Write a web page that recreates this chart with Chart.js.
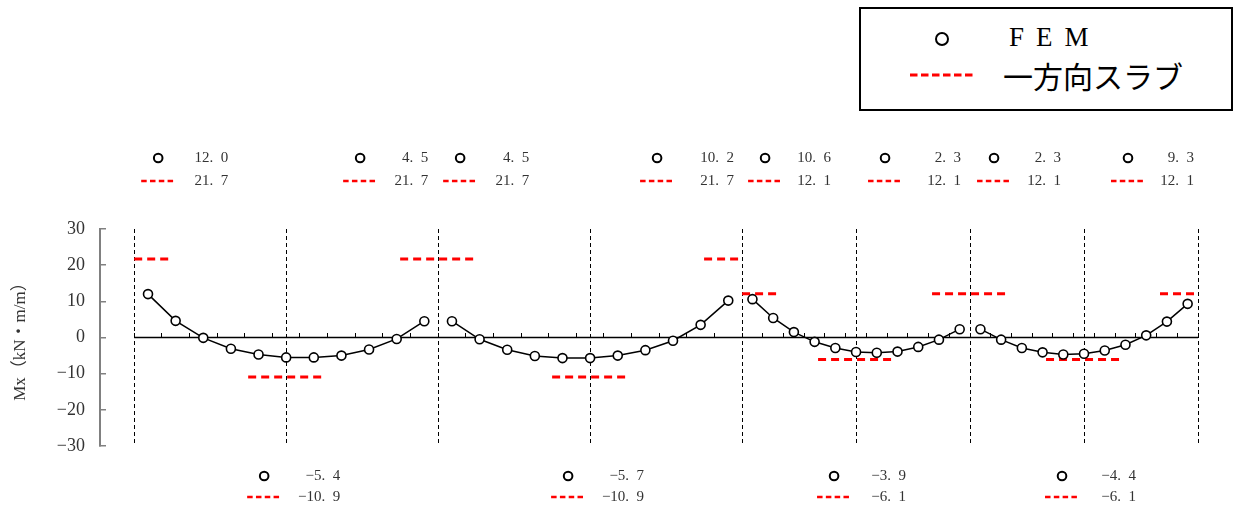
<!DOCTYPE html>
<html>
<head>
<meta charset="utf-8">
<script src="https://cdn.jsdelivr.net/npm/chart.js@4.4.1/dist/chart.umd.min.js"></script>
<style>
  body { margin: 0; background: #fff; }
  #wrap { position: relative; width: 1238px; height: 513px; }
  #legend { position: absolute; left: 859px; top: 7px; width: 370px; height: 100px; border: 2px solid #000; background: #fff; }
  #legend .mark { position: absolute; left: 74px; top: 23px; width: 10px; height: 10px; border: 2px solid #000; border-radius: 50%; }
  #legend .fem { position: absolute; left: 148px; top: 13px; font: 27px 'Liberation Serif', serif; line-height: 30px; letter-spacing: 12px; }
  #legend svg { position: absolute; left: 49px; top: 62px; }
  #legend .slab { position: absolute; left: 142px; top: 48px; font: 30px 'Noto Sans CJK JP', sans-serif; line-height: 36px; }
</style>
</head>
<body>
<div id="wrap">
  <canvas id="mx-chart" width="1238" height="513"></canvas>
  <div id="legend">
    <span class="mark"></span>
    <span class="fem">FEM</span>
    <svg width="64" height="8"><line x1="0" y1="4" x2="64" y2="4" stroke="#ff0000" stroke-width="3" stroke-dasharray="7.5 3.5"/></svg>
    <span class="slab">一方向スラブ</span>
  </div>
</div>
<script>
// span layout (m): supports and midspans
const supportX = [0, 4, 8, 11, 14];
const midX = [2, 6, 9.5, 12.5];

// FEM moments, 11 points per span
const femSpan1 = [12.0, 4.6, -0.1, -3.1, -4.7, -5.5, -5.5, -5.0, -3.3, -0.4, 4.5];
const femSpan2 = [4.5, -0.5, -3.4, -5.1, -5.7, -5.7, -5.0, -3.5, -0.9, 3.5, 10.2];
const femSpan3 = [10.6, 5.4, 1.5, -1.2, -2.9, -4.0, -4.2, -3.9, -2.6, -0.6, 2.3];
const femSpan4 = [2.3, -0.6, -2.9, -4.1, -4.7, -4.5, -3.6, -2.0, 0.6, 4.4, 9.3];

// one-way slab moments
const slabLeft = [null, 21.7, 21.7, 12.1, 12.1];   // just left of each support
const slabRight = [21.7, 21.7, 12.1, 12.1, null];  // just right of each support
const slabMid = [-10.9, -10.9, -6.1, -6.1];

// value labels
const topLabelX = [0, 4, 4, 8, 8, 11, 11, 14];
const topFem = [12.0, 4.5, 4.5, 10.2, 10.6, 2.3, 2.3, 9.3];
const topSlab = [21.7, 21.7, 21.7, 21.7, 12.1, 12.1, 12.1, 12.1];
const midFem = [-5.4, -5.7, -3.9, -4.4];
const midSlab = [-10.9, -10.9, -6.1, -6.1];

const yTicks = [-30, -20, -10, 0, 10, 20, 30];

// label placement (px offsets from the support / midspan)
const topMarkOff = [24, -78, 22, -85, 23, -85, 24, -70];
const topTextOff = [94, -10, 91, -8, 89, -9, 91, -4];
const midTextOff = [54, 54, 50, 52];

const femSpans = [femSpan1, femSpan2, femSpan3, femSpan4];

function spanPoints(vals, i) {
  const s = supportX[i], L = supportX[i + 1] - supportX[i];
  return vals.map((v, k) => ({ x: s + (k + 0.5) * L / vals.length, y: v }));
}

function fmt(v) {
  return (v < 0 ? '\u2212' : '') + Math.abs(v).toFixed(1).replace('.', '.\u2002');
}

const datasets = [];
femSpans.forEach((vals, i) => {
  datasets.push({
    label: 'FEM',
    data: spanPoints(vals, i),
    showLine: true,
    borderColor: '#000',
    borderWidth: 1.5,
    pointRadius: 4.5,
    pointBorderWidth: 1.6,
    pointBorderColor: '#000',
    pointBackgroundColor: '#fff',
    order: 0
  });
});

function slabSeg(x1, x2, y) {
  datasets.push({
    label: '一方向スラブ',
    data: [{ x: x1, y: y }, { x: x2, y: y }],
    showLine: true,
    borderColor: '#ff0000',
    borderWidth: 3,
    borderDash: [8, 5],
    pointRadius: 0,
    order: 1
  });
}
supportX.forEach((sx, i) => {
  if (slabLeft[i] === slabRight[i]) {
    slabSeg(sx - 0.5, sx + 0.5, slabLeft[i]);
  } else {
    if (slabLeft[i] !== null) slabSeg(sx - 0.5, sx, slabLeft[i]);
    if (slabRight[i] !== null) slabSeg(sx, sx + 0.5, slabRight[i]);
  }
});
midX.forEach((mx, i) => slabSeg(mx - 0.5, mx + 0.5, slabMid[i]));

// zero line
datasets.push({
  data: [{ x: supportX[0], y: 0 }, { x: supportX[supportX.length - 1], y: 0 }],
  showLine: true,
  borderColor: '#000',
  borderWidth: 1.5,
  pointRadius: 0,
  order: 2
});

// small ticks along the zero line, 11 divisions per span
const divTicks = [];
for (let i = 0; i < supportX.length - 1; i++) {
  const L = supportX[i + 1] - supportX[i];
  for (let k = 0; k < 11; k++) divTicks.push(supportX[i] + k * L / 11);
}
divTicks.push(supportX[supportX.length - 1]);

const valueLabels = {
  id: 'valueLabels',
  afterDraw(chart) {
    const { ctx, chartArea } = chart;
    const xs = chart.scales.x;
    ctx.save();
    ctx.font = "15px 'Liberation Serif', 'Noto Sans CJK JP'";
    ctx.textBaseline = 'middle';
    ctx.textAlign = 'right';
    topLabelX.forEach((xv, i) => {
      const px = xs.getPixelForValue(xv);
      drawPair(ctx, px + topMarkOff[i], px + topTextOff[i], chartArea.top - 71, chartArea.top - 48, topFem[i], topSlab[i]);
    });
    midX.forEach((xv, i) => {
      const px = xs.getPixelForValue(xv);
      drawPair(ctx, px - 22, px + midTextOff[i], chartArea.bottom + 30, chartArea.bottom + 51, midFem[i], midSlab[i]);
    });
    ctx.restore();
  }
};

function drawPair(ctx, mx, tx, y1, y2, fem, slab) {
  ctx.setLineDash([]);
  ctx.beginPath();
  ctx.arc(mx, y1, 4.3, 0, Math.PI * 2);
  ctx.strokeStyle = '#000';
  ctx.lineWidth = 2;
  ctx.stroke();
  ctx.beginPath();
  ctx.moveTo(mx - 17, y2);
  ctx.lineTo(mx + 15, y2);
  ctx.strokeStyle = '#ff0000';
  ctx.lineWidth = 2.5;
  ctx.setLineDash([5.5, 3.3]);
  ctx.stroke();
  ctx.setLineDash([]);
  ctx.fillStyle = '#333';
  ctx.fillText(fmt(fem), tx, y1);
  ctx.fillText(fmt(slab), tx, y2);
}

const ctx = document.getElementById('mx-chart').getContext('2d');
const chart = new Chart(ctx, {
  type: 'scatter',
  data: { datasets: datasets },
  options: {
    responsive: false,
    animation: false,
    devicePixelRatio: 1,
    layout: { padding: { left: 0, right: 40, top: 229, bottom: 67 } },
    plugins: { legend: { display: false }, tooltip: { enabled: false } },
    scales: {
      x: {
        type: 'linear',
        min: -0.45,
        max: 14,
        afterBuildTicks: (s) => { s.ticks = supportX.concat(midX).map(v => ({ value: v })); },
        ticks: { display: false },
        grid: { color: '#000', lineWidth: 1, drawTicks: false },
        border: { display: false, dash: [4, 3] }
      },
      x2: {
        type: 'linear',
        axis: 'x',
        position: { y: 0 },
        min: -0.45,
        max: 14,
        afterBuildTicks: (s) => { s.ticks = divTicks.map(v => ({ value: v })); },
        ticks: { display: false },
        grid: { drawOnChartArea: false, drawTicks: true, tickLength: -5, color: '#000', lineWidth: 1 },
        border: { display: false }
      },
      y: {
        min: -30,
        max: 30,
        afterBuildTicks: (s) => { s.ticks = yTicks.map(v => ({ value: v })); },
        afterFit: (s) => { s.width = 100; },
        ticks: {
          padding: 21,
          color: '#333',
          font: { family: "'Liberation Serif'", size: 18 },
          callback: (v) => (v < 0 ? '\u2212' : '') + Math.abs(v)
        },
        grid: { drawOnChartArea: false, drawTicks: true, tickLength: -6, color: '#808080', lineWidth: 1.5 },
        border: { display: true, color: '#808080', width: 2 },
        title: {
          display: true,
          text: 'Mx（kN・m/m）',
          color: '#333',
          font: { family: "'Liberation Serif', 'Noto Sans CJK JP'", size: 17 },
          padding: { top: 10, bottom: 0 }
        }
      }
    }
  },
  plugins: [valueLabels]
});
</script>
</body>
</html>
